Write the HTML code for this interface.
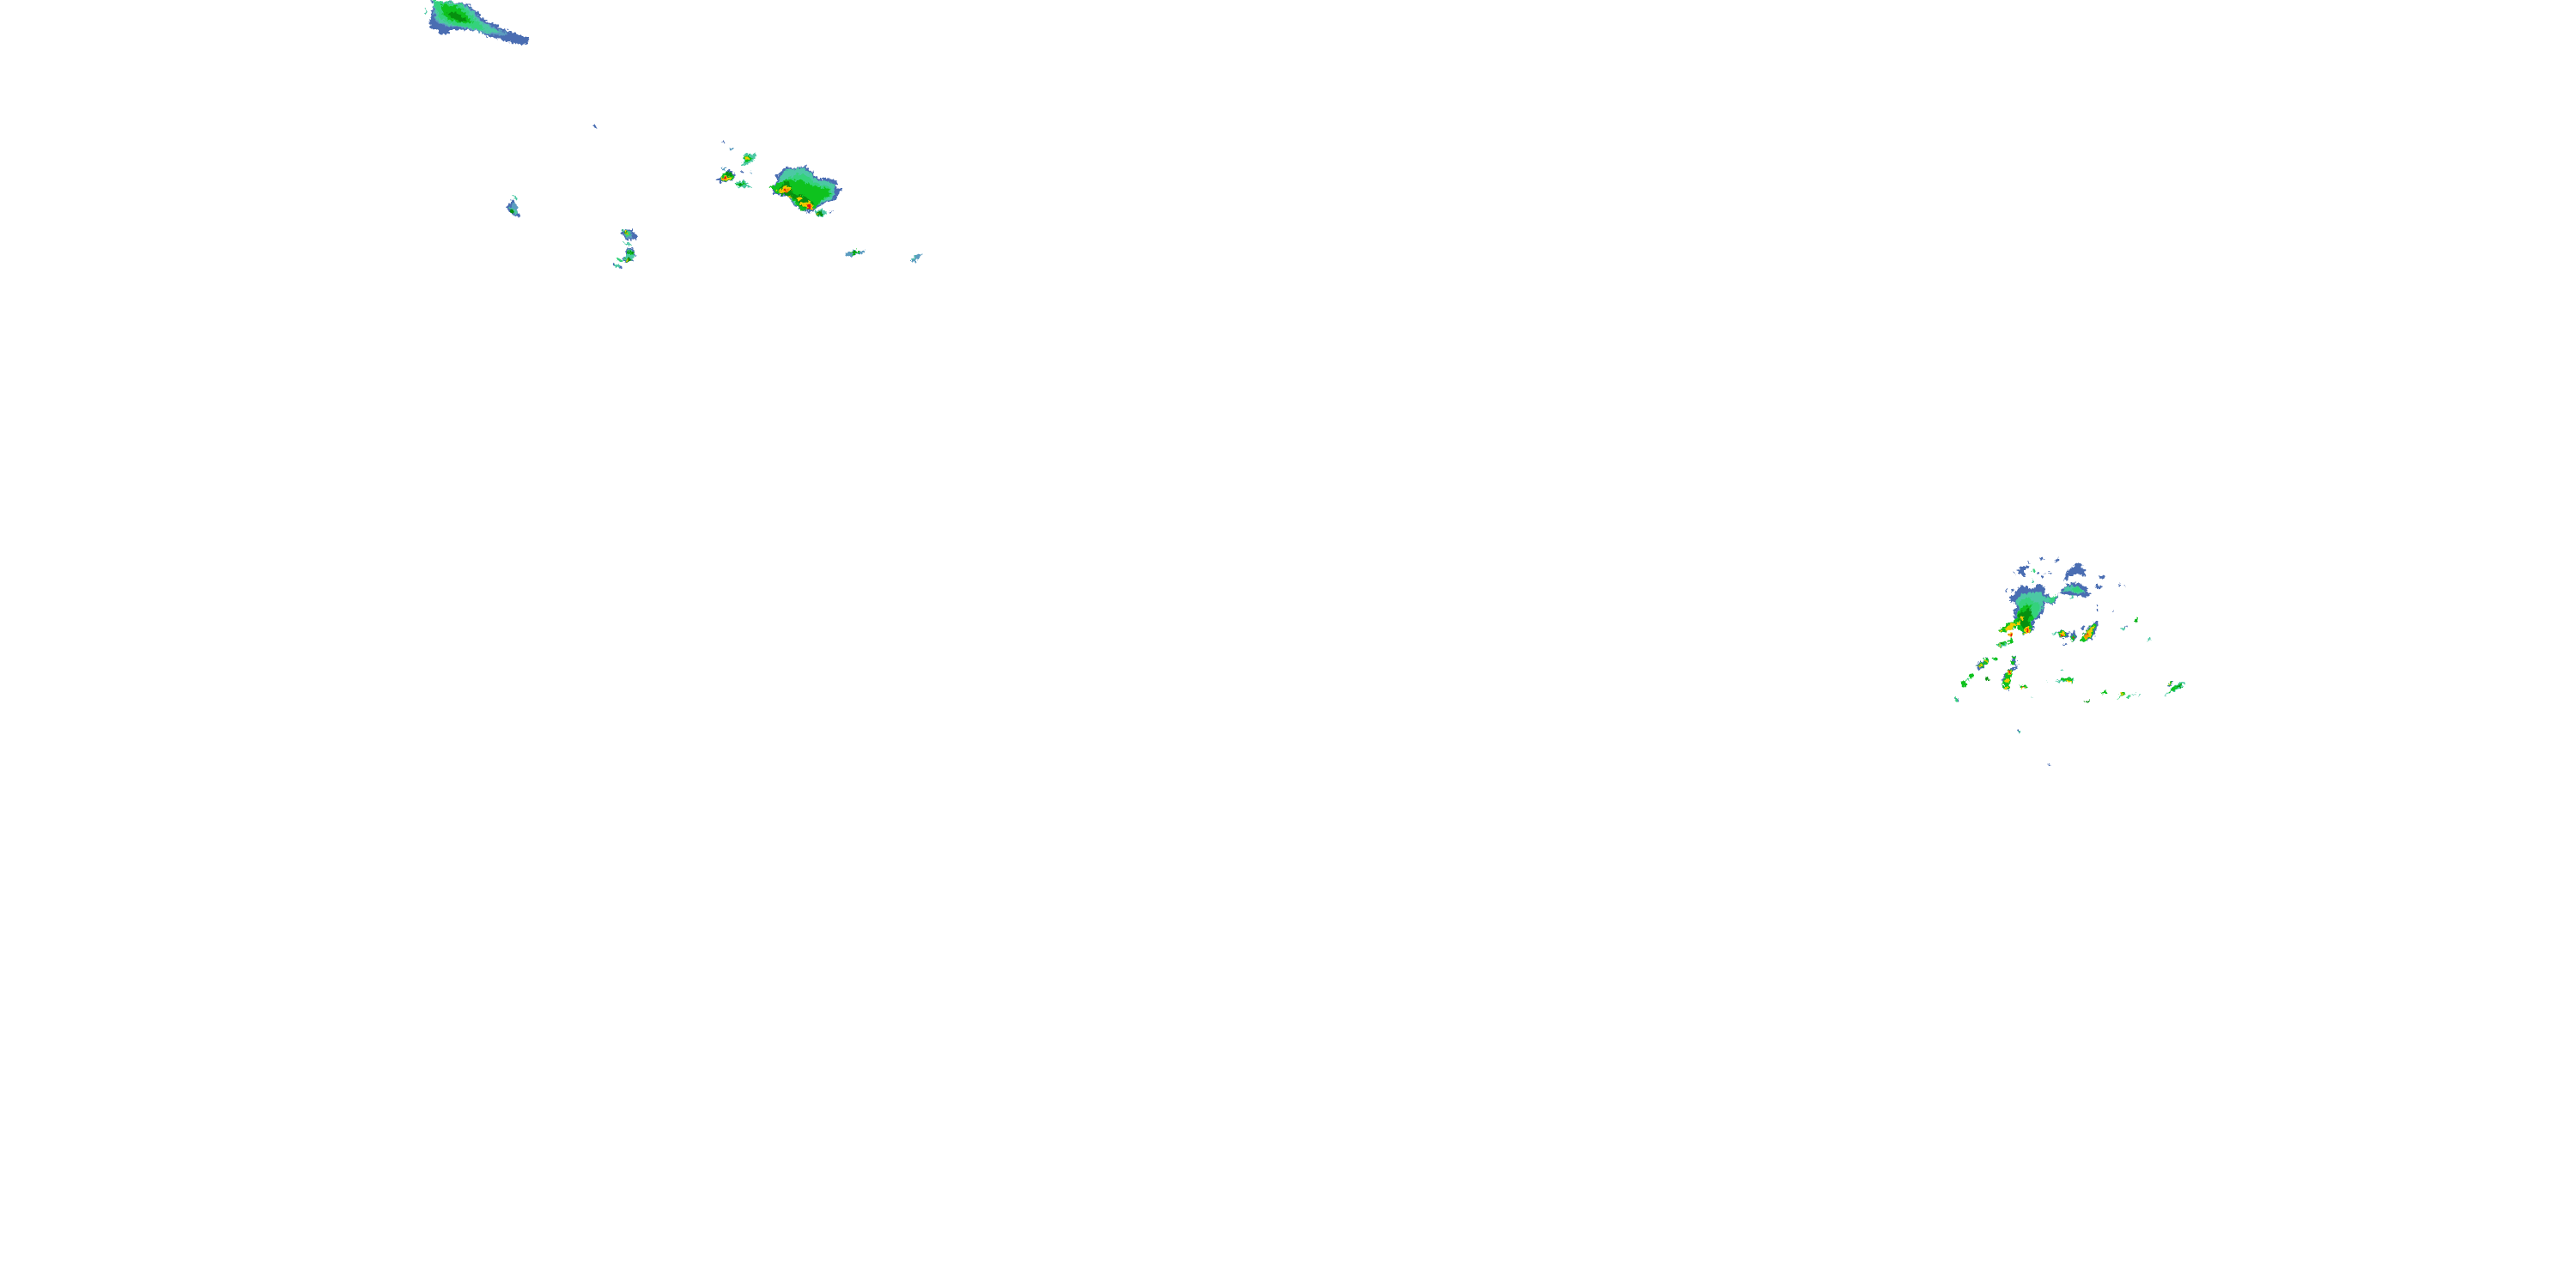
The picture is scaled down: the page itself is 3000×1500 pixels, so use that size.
<!DOCTYPE html>
<html><head><meta charset="utf-8"><style>
html,body{margin:0;padding:0;background:#fff;width:3000px;height:1500px;overflow:hidden}
svg{display:block}
.b{fill:#4a6db2}.m{fill:#5c9cc0}.t{fill:#4cc8a4}.l{fill:#34d27c}.g{fill:#0ec21e}.d{fill:#06900f}.y{fill:#f2cc00}.o{fill:#f09a00}.r{fill:#e81414}
</style></head><body>
<svg width="3000" height="1500" viewBox="0 0 3000 1500" xmlns="http://www.w3.org/2000/svg" shape-rendering="crispEdges">
<defs>
<filter id="rough" filterUnits="userSpaceOnUse" x="0" y="0" width="3000" height="1500" color-interpolation-filters="sRGB">
<feTurbulence type="fractalNoise" baseFrequency="0.32" numOctaves="2" seed="7" result="n"/>
<feDisplacementMap in="SourceGraphic" in2="n" scale="7" xChannelSelector="R" yChannelSelector="G"/>
</filter>
</defs>
<rect width="3000" height="1500" fill="#fff"/>
<g filter="url(#rough)">

<!-- top-left cell -->
<g transform="translate(480,0) scale(.33333)">
<polygon class="b" points="60,0 190,12 225,40 255,70 300,90 340,110 385,125 410,130 405,150 380,155 340,148 300,135 265,128 240,112 200,105 130,105 120,122 95,120 90,105 70,100 58,85 65,60 68,35 75,15"/>
<polygon class="m" points="72,0 185,15 220,45 245,75 290,98 340,122 300,122 250,118 210,104 170,96 120,92 85,78 75,40"/>
<polygon class="t" points="72,0 180,15 215,45 240,75 285,100 310,112 270,115 230,105 170,92 120,88 88,72 80,40"/>
<polygon class="l" points="75,0 170,15 205,50 235,85 258,100 235,103 190,93 130,83 92,60 85,30"/>
<polygon class="g" points="100,15 150,20 190,50 210,78 180,82 130,70 108,50"/>
<polygon class="d" points="125,45 155,42 180,62 195,75 170,75 135,60"/>
<rect class="t" x="45" y="30" width="5" height="20"/>
</g>

<!-- scattered cells left -->
<g transform="translate(580,130) scale(.33333)">
<polygon class="b" points="327,45 338,45 345,52 344,60 335,52"/>
<polygon class="t" points="48,288 54,290 68,306 62,306 50,294"/>
<polygon class="b" points="45,310 55,312 68,330 62,340 75,358 77,368 60,365 40,352 30,335 38,322"/>
<polygon class="m" points="48,322 60,318 66,332 68,352 58,358 42,345"/>
<polygon class="t" points="38,332 50,334 68,352 60,360 45,354"/>
<polygon class="d" points="40,342 52,344 58,356 46,356"/>
<polygon class="b" points="430,412 470,412 485,432 482,448 448,450 440,434 430,425"/>
<polygon class="m" points="440,416 462,418 470,440 452,444 440,430"/>
<polygon class="l" points="432,414 455,416 465,432 448,436"/>
<polygon class="d" points="436,416 452,420 456,430 442,428"/>
<rect class="y" x="441" y="418" width="6" height="6"/><rect class="y" x="449" y="424" width="6" height="5"/>
<polygon class="t" points="432,456 452,458 468,463 466,468 448,465"/>
<polygon class="b" points="445,488 450,476 475,480 478,502 484,504 472,512 474,525 440,526 435,512 445,505"/>
<polygon class="t" points="452,482 472,486 476,505 470,524 444,522 440,512 450,500"/>
<polygon class="g" points="450,486 472,490 474,500 454,498"/>
<polygon class="d" points="448,510 466,512 466,524 446,524"/><rect class="d" x="456" y="488" width="14" height="6"/>
<rect class="y" x="449" y="514" width="7" height="6"/>
<polygon class="l" points="412,511 420,512 436,520 434,524 420,520"/>
<polygon class="t" points="400,532 412,530 432,540 430,548 412,544"/>
<polygon class="b" points="400,532 406,530 408,540 402,538"/><rect class="b" x="423" y="538" width="9" height="9"/>
</g>

<!-- main NW cluster -->
<g transform="translate(820,150) scale(.33333)">
<rect class="b" x="58" y="45" width="16" height="5"/><rect class="m" x="90" y="67" width="15" height="5"/>
<polygon class="t" points="134,95 150,88 180,85 185,92 170,112 158,120 128,128 140,118"/>
<polygon class="g" points="136,96 160,92 170,104 150,118 140,110"/>
<polygon class="y" points="141,100 156,98 158,105 144,108"/>
<rect class="m" x="60" y="138" width="15" height="3"/><rect class="b" x="126" y="148" width="9" height="5"/><rect class="m" x="160" y="150" width="14" height="5"/>
<polygon class="b" points="42,178 62,165 78,145 95,145 108,160 105,172 98,182 60,186 46,184"/>
<polygon class="g" points="56,172 72,150 95,152 104,170 95,180 62,182"/>
<polygon class="d" points="72,155 92,150 100,165 80,165"/>
<polygon class="y" points="60,170 85,165 96,172 90,178 62,180"/>
<rect class="r" x="66" y="170" width="12" height="6"/>
<polygon class="t" points="106,188 130,182 150,186 155,198 170,200 170,206 145,206 116,204"/>
<polygon class="g" points="110,190 138,186 148,196 120,200"/>
<rect class="d" x="118" y="191" width="18" height="5"/>
<polygon class="b" points="250,165 288,132 320,138 352,128 378,150 400,175 430,172 466,182 462,210 484,212 468,228 462,248 430,258 400,272 375,292 340,285 310,262 298,240 245,228 235,205 255,190"/>
<polygon class="t" points="262,168 290,140 318,142 350,135 372,155 395,180 430,182 458,192 455,225 450,245 425,252 395,268 372,285 340,278 312,258 298,235 252,222 258,196"/>
<polygon class="l" points="280,180 320,158 355,160 395,195 440,200 448,232 420,248 385,268 330,258 290,225"/>
<polygon class="g" points="226,205 250,197 285,175 310,180 340,180 380,200 435,210 440,232 410,248 385,280 340,285 320,260 300,235 250,226 240,212"/>
<polygon class="d" points="260,210 292,178 305,205 310,230 345,232 385,262 370,280 345,276 322,252 300,238 262,226"/>
<polygon class="y" points="255,218 285,198 306,206 300,218 262,226"/>
<polygon class="o" points="272,215 294,206 300,216 276,222"/>
<rect class="r" x="284" y="215" width="8" height="5"/>
<polygon class="y" points="322,242 340,236 346,246 330,252"/>
<polygon class="y" points="335,258 370,252 384,270 380,282 358,280"/>
<polygon class="o" points="352,262 376,264 380,280 362,278"/>
<rect class="r" x="360" y="266" width="14" height="14"/>
<rect class="y" x="296" y="234" width="12" height="6"/>
<polygon class="t" points="385,288 405,280 430,290 424,304 398,308"/>
<polygon class="d" points="392,292 412,288 414,300 396,304"/><rect class="y" x="394" y="294" width="6" height="4"/>
<rect class="b" x="440" y="288" width="10" height="3"/>
</g>

<!-- two small eastern cells -->
<g transform="translate(970,270) scale(.33333)">
<polygon class="m" points="46,76 75,62 95,68 114,67 100,76 80,80 62,86 48,82"/>
<polygon class="g" points="60,70 85,64 94,72 70,82"/>
<polygon class="d" points="64,72 80,67 84,74 70,78"/>
<polygon class="m" points="268,98 295,80 314,76 296,96 285,106 276,104"/>
<polygon class="t" points="274,96 294,84 290,92 280,98"/>
</g>

<!-- SE cluster main -->
<g transform="translate(2320,640) scale(.33333)">
<polygon class="b" points="165,25 175,25 182,36 172,38"/><polygon class="b" points="218,38 232,30 232,42 222,44"/>
<rect class="b" x="123" y="42" width="8" height="4"/>
<polygon class="b" points="88,78 100,60 130,58 125,68 108,72 118,90 112,96 100,86 88,84"/>
<polygon class="l" points="140,68 150,70 148,78 140,78"/><rect class="b" x="75" y="80" width="5" height="4"/>
<polygon class="t" points="138,104 150,114 146,120 136,112"/>
<rect class="b" x="198" y="76" width="10" height="6"/><rect class="b" x="180" y="82" width="8" height="4"/><rect class="b" x="170" y="92" width="6" height="4"/><rect class="b" x="158" y="80" width="5" height="5"/><rect class="b" x="45" y="140" width="6" height="6"/><rect class="b" x="64" y="136" width="11" height="11"/>
<polygon class="b" points="255,86 272,68 296,46 310,52 328,84 322,94 300,84 270,92 262,108 255,112"/>
<polygon class="b" points="232,155 262,120 290,115 325,128 342,158 330,165 280,160 250,152"/>
<polygon class="t" points="240,150 268,125 310,132 328,152 290,152 265,145"/>
<polygon class="l" points="272,138 300,130 315,145 290,148"/>
<rect class="t" x="275" y="162" width="10" height="8"/>
<polygon class="b" points="374,92 392,90 392,100 376,100"/>
<polygon class="b" points="358,124 368,124 382,130 380,136 362,134"/>
<rect class="b" x="365" y="195" width="4" height="6"/><rect class="b" x="368" y="208" width="3" height="6"/><rect class="b" x="442" y="122" width="3" height="5"/><rect class="b" x="462" y="126" width="3" height="5"/><rect class="b" x="422" y="212" width="3" height="3"/>
<polygon class="b" points="60,170 90,140 92,130 120,128 135,140 160,120 185,130 185,155 215,165 232,155 220,190 200,190 185,185 180,215 165,240 145,250 145,285 110,296 90,270 75,230 80,205 85,190 60,180"/>
<polygon class="t" points="80,180 105,158 130,150 170,145 182,165 210,170 225,160 215,186 180,180 170,215 155,240 140,245 130,290 100,285 85,230 95,200"/>
<polygon class="l" points="95,180 130,165 150,185 170,190 160,235 135,245 130,275 105,270 90,225"/>
<polygon class="l" points="198,168 225,160 215,186 200,180"/>
<polygon class="g" points="90,215 120,190 140,195 130,225 150,240 135,250 140,285 112,295 85,270 55,285 30,290 22,282 50,260 75,252 88,235"/>
<polygon class="d" points="90,225 115,215 130,195 138,225 125,240 132,285 112,290 102,262 92,245"/>
<polygon class="y" points="42,275 66,260 98,252 102,262 78,268 68,280 52,286"/>
<polygon class="y" points="100,232 112,236 108,248 98,246"/>
<polygon class="y" points="110,275 130,268 136,282 122,294 110,290"/>
<polygon class="o" points="115,278 132,274 130,288 118,290"/><rect class="r" x="118" y="280" width="10" height="8"/>
<polygon class="y" points="55,295 70,288 74,300 60,308"/><rect class="r" x="62" y="296" width="7" height="8"/>
<rect class="y" x="25" y="280" width="14" height="7"/>
<polygon class="g" points="54,318 72,310 76,322 60,332"/>
<polygon class="g" points="18,330 45,320 52,328 30,340 20,340"/><rect class="t" x="20" y="330" width="16" height="8"/><rect class="d" x="28" y="326" width="12" height="6"/>
<polygon class="g" points="64,372 80,370 84,386 72,388"/><rect class="y" x="72" y="376" width="5" height="5"/>
<polygon class="l" points="2,380 15,378 18,390 8,390"/>
</g>

<!-- SE cluster lower-left -->
<g transform="translate(2260,750) scale(.33333)">
<polygon class="b" points="122,78 135,65 155,62 152,50 170,48 172,66 155,70 150,82 138,90"/>
<polygon class="g" points="125,78 140,66 155,65 152,50 170,52 172,65 152,70 145,84"/>
<polygon class="y" points="130,78 145,68 148,74 138,84"/><rect class="y" x="158" y="56" width="8" height="6"/>
<polygon class="g" points="184,46 194,48 196,60 186,56"/>
<polygon class="g" points="96,112 108,105 116,112 108,122"/>
<polygon class="l" points="90,122 100,120 106,132 96,128"/>
<polygon class="g" points="72,130 88,128 94,142 84,152 74,146"/>
<polygon class="d" points="155,115 165,116 170,126 160,128"/>
<polygon class="l" points="48,186 56,186 64,198 54,198"/><rect class="b" x="56" y="192" width="7" height="6"/>
<polygon class="b" points="244,42 264,40 265,70 278,70 260,76 245,70 250,55"/>
<polygon class="g" points="244,42 262,42 262,55 250,52"/><polygon class="g" points="245,62 258,62 260,72 250,72"/>
<rect class="y" x="250" y="44" width="5" height="4"/>
<polygon class="b" points="222,108 240,85 265,80 272,86 250,94 244,125 240,160 222,160 215,130"/>
<polygon class="g" points="228,105 238,88 252,90 248,105 245,125 240,158 224,160 216,135"/>
<polygon class="y" points="232,98 248,90 248,102 236,106"/><rect class="r" x="237" y="95" width="7" height="5"/>
<polygon class="y" points="222,124 238,120 240,134 224,134"/>
<rect class="y" x="224" y="150" width="10" height="8"/>
<polygon class="g" points="277,146 292,142 302,152 290,158"/><rect class="y" x="282" y="148" width="12" height="7"/><rect class="r" x="283" y="150" width="6" height="3"/>
<polygon class="t" points="198,0 235,0 222,6 208,12"/><rect class="y" x="204" y="1" width="8" height="6"/>
<rect class="t" x="315" y="183" width="8" height="3"/>
<rect class="b" x="265" y="300" width="8" height="5"/><rect class="t" x="271" y="304" width="10" height="5"/>
<rect class="b" x="375" y="420" width="14" height="3"/>
<rect class="t" x="418" y="90" width="14" height="4"/>
<rect class="t" x="369" y="132" width="3" height="3"/>
<rect class="b" x="430" y="0" width="14" height="3"/>
</g>

<!-- SE cluster right -->
<g transform="translate(2380,700) scale(.33333)">
<polygon class="t" points="28,112 46,108 48,116 30,116"/>
<polygon class="b" points="50,108 64,100 82,110 90,108 88,120 70,132 54,128"/>
<polygon class="g" points="52,110 66,102 78,110 80,122 70,130 56,126"/>
<polygon class="y" points="56,112 72,108 76,124 62,128"/><rect class="r" x="62" y="116" width="7" height="9"/>
<polygon class="b" points="94,118 104,102 112,112 116,120 110,138 96,140"/>
<polygon class="g" points="96,122 110,120 108,136 96,138"/><rect class="r" x="100" y="126" width="7" height="5"/>
<polygon class="b" points="68,150 80,145 84,152 68,152"/>
<polygon class="b" points="132,92 142,90 138,102 132,102"/>
<polygon class="b" points="130,135 150,100 180,72 190,68 190,85 178,120 165,132 140,146"/>
<polygon class="g" points="130,135 150,102 178,78 184,82 174,115 160,130 140,146"/>
<polygon class="y" points="140,128 155,100 176,85 165,118 150,136"/>
<polygon class="o" points="146,122 158,110 160,122 150,132"/><rect class="r" x="150" y="112" width="6" height="5"/><rect class="r" x="145" y="122" width="5" height="4"/><rect class="r" x="158" y="98" width="4" height="4"/>
<rect class="b" x="185" y="14" width="3" height="6"/><rect class="b" x="186" y="30" width="3" height="6"/><rect class="b" x="243" y="33" width="3" height="3"/>
<polygon class="g" points="316,68 324,60 330,66 322,78"/><rect class="d" x="319" y="66" width="6" height="5"/>
<polygon class="t" points="270,98 285,86 290,94 282,100"/><rect class="b" x="283" y="86" width="7" height="8"/>
<polygon class="t" points="363,132 372,128 376,134 366,140"/>
<rect class="t" x="58" y="240" width="14" height="4"/>
<polygon class="t" points="42,280 70,268 100,268 108,275 98,285 85,282 60,282"/>
<polygon class="g" points="56,276 72,268 102,270 100,282 82,280"/><polygon class="y" points="84,274 98,274 96,284 86,284"/>
<rect class="t" x="9" y="282" width="3" height="3"/>
<polygon class="g" points="202,320 212,316 222,318 214,326 204,326"/>
<polygon class="d" points="142,350 158,345 164,350 152,356"/>
<polygon class="g" points="265,328 280,318 288,322 280,332 268,332"/>
<polygon class="y" points="270,324 276,322 276,328 270,328"/>
<polygon class="l" points="258,340 266,334 272,336 262,342"/>
<polygon class="l" points="290,336 300,328 308,332 298,338"/>
<polygon class="t" points="308,328 322,322 324,325 312,331"/>
<polygon class="t" points="326,334 338,327 339,330 330,336"/>
<polygon class="b" points="432,295 444,280 456,276 450,294 438,300"/>
<polygon class="g" points="434,292 444,282 452,284 446,296"/>
<polygon class="y" points="438,288 444,284 444,292 440,294"/>
<polygon class="t" points="424,328 442,310 460,296 478,282 490,284 486,296 462,312 440,320 428,330"/>
<polygon class="g" points="436,316 460,298 482,286 484,294 458,310 440,318"/>
<polygon class="d" points="466,296 482,288 482,294 468,302"/>
</g>
</g>
</svg>
</body></html>
